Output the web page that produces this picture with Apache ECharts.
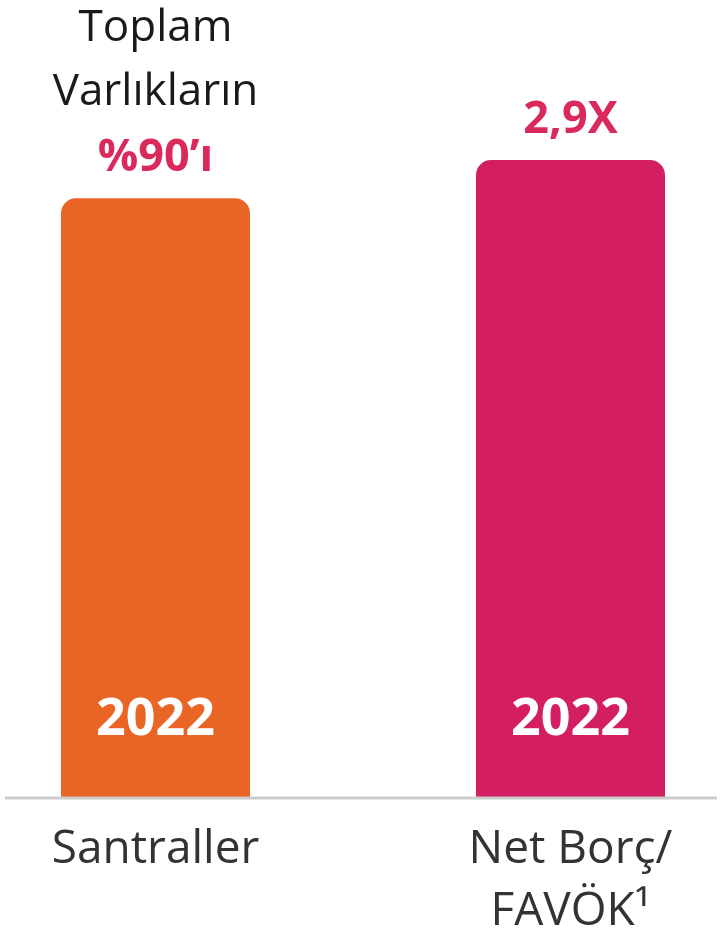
<!DOCTYPE html>
<html>
<head>
<meta charset="utf-8">
<script src="https://cdn.jsdelivr.net/npm/echarts@6/dist/echarts.min.js"></script>
<style>
  html, body { margin: 0; padding: 0; background: #ffffff; }
  #chart { width: 723px; height: 942px; }
</style>
</head>
<body>
<div id="chart"></div>
<script>
// kategoriler ve degerler (bar yukseklikleri gorselden okundu)
var categories = ['Santraller', 'Net Borç/\nFAVÖK¹']
var values = [94, 100]
var barColors = ['#E96525', '#D41E62']
var yearLabels = ['2022', '2022']
var topCaption = ['Toplam', 'Varlıkların']
var topValues = ['%90’ı', '2,9X']

var myChart = echarts.init(document.getElementById('chart'))

var accent = '#DA2A5C' // kirmizi-mor yazi rengi

var option = {
  animation: false,
  grid: {
    top: 160,
    bottom: 144,
    left: -52,
    right: -55,
    outerBoundsMode: 'none',
    containLabel: false
  },
  xAxis: {
    type: 'category',
    data: categories,
    axisLine: { show: false },
    axisTick: { show: false },
    axisLabel: {
      margin: 21,
      color: '#333333',
      fontFamily: 'Open Sans',
      fontSize: 46,
      lineHeight: 62,
      verticalAlign: 'top'
    }
  },
  yAxis: {
    type: 'value',
    min: 0,
    max: 100,
    show: false,
    splitLine: { show: false }
  },
  graphic: [
    {
      type: 'line',
      shape: { x1: 5, y1: 798, x2: 717, y2: 798 },
      style: { stroke: '#CCCCCC', lineWidth: 3 },
      z: 10
    }
  ],
  series: [
    {
      type: 'bar',
      barWidth: 189,
      data: values.map(function (v, i) {
        return {
          value: v,
          itemStyle: { color: barColors[i], borderRadius: [15, 15, 0, 0] },
          label: i === 0 ? {
            show: true,
            position: 'top',
            distance: 6,
            formatter: '{a|' + topCaption[0] + '}\n{a|' + topCaption[1] + '}\n{b|' + topValues[0] + '}',
            rich: {
              a: { fontFamily: 'Open Sans', fontSize: 44, lineHeight: 64, color: '#1A1A1A' },
              b: { fontFamily: 'Open Sans', fontWeight: 'bold', fontSize: 45, lineHeight: 68, color: accent }
            }
          } : {
            show: true,
            position: 'top',
            distance: 20,
            formatter: '{b|' + topValues[1] + '}',
            rich: {
              b: { fontFamily: 'Open Sans', fontWeight: 'bold', fontSize: 45, lineHeight: 40, color: accent }
            }
          }
        }
      })
    },
    {
      // sadece "2022" yazisi icin seffaf kopya
      type: 'bar',
      barWidth: 189,
      barGap: '-100%',
      silent: true,
      itemStyle: { color: 'rgba(0,0,0,0)' },
      data: values,
      label: {
        show: true,
        position: 'insideBottom',
        distance: 52,
        color: '#ffffff',
        fontFamily: 'Open Sans',
        fontWeight: 'bold',
        fontSize: 52,
        lineHeight: 52,
        formatter: function (p) { return yearLabels[p.dataIndex] }
      }
    }
  ]
}

myChart.setOption(option)
</script>
</body>
</html>
